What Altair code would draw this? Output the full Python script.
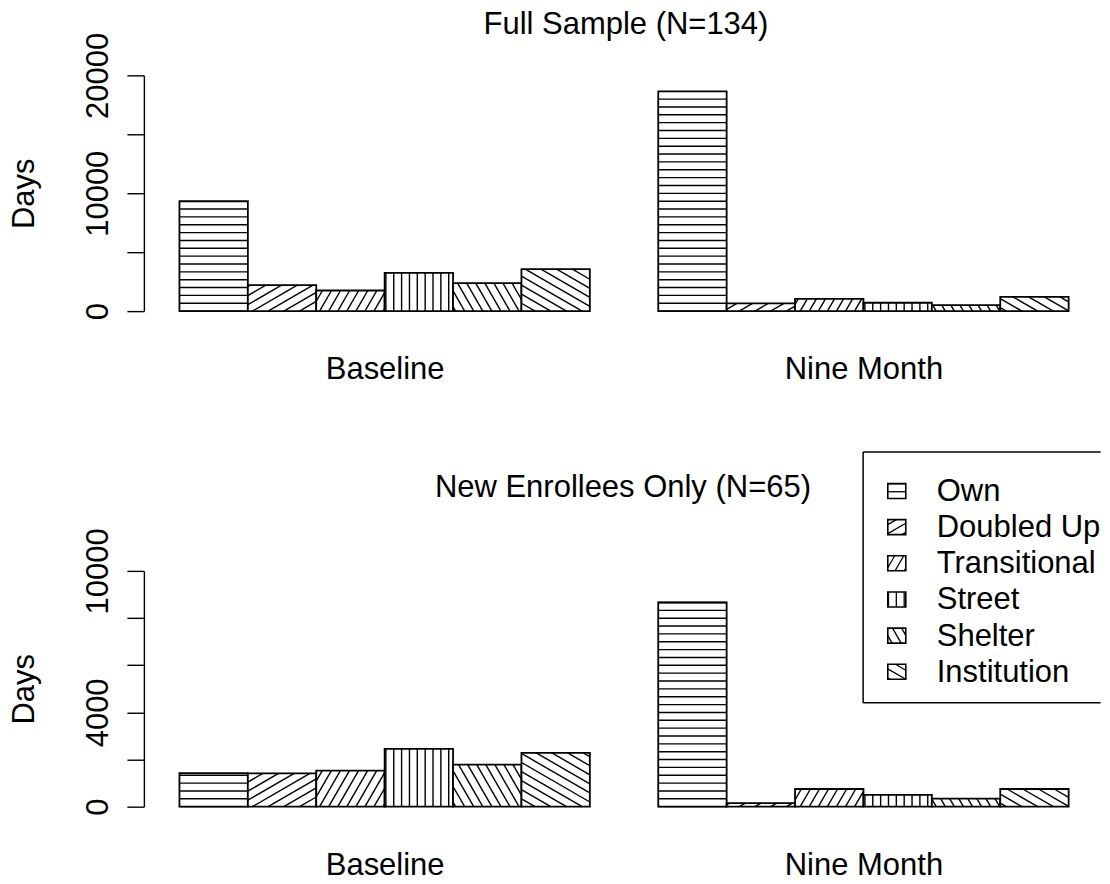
import math
import altair as alt
import pandas as pd

# ---------------- data ----------------
categories = ["Own", "Doubled Up", "Transitional", "Street", "Shelter", "Institution"]
periods = ["Baseline", "Nine Month"]
hatch_angles = [0, 30, 60, 90, 120, 150]

full_baseline = [9320, 2200, 1750, 3250, 2370, 3560]
full_ninemonth = [18640, 650, 1045, 710, 510, 1215]
new_baseline = [1420, 1410, 1530, 2450, 1780, 2280]
new_ninemonth = [8660, 150, 750, 500, 340, 750]

panel_titles = ["Full Sample (N=134)", "New Enrollees Only (N=65)"]
full_ticks = [0, 5000, 10000, 15000, 20000]
full_labels = [0, 10000, 20000]
new_ticks = [0, 2000, 4000, 6000, 8000, 10000]
new_labels = [0, 4000, 10000]
y_title = "Days"

# ---------------- layout ----------------
FONT = "Liberation Sans"
FS = 31
W, H = 953, 236
XMIN, XMAX = 0.48, 14.4
KX = W / (XMAX - XMIN)
HATCH_D = 7.86
PLOT_LEFT_PAGE = 143.4
TOP_ZERO_PAGE = 311.0


def hatch_px(X0, X1, Y0, Y1, angle_deg, d=HATCH_D):
    th = math.radians(angle_deg)
    ux, uy = math.cos(th), math.sin(th)
    nx, ny = -uy, ux
    cs = [nx * X + ny * Y for X in (X0, X1) for Y in (Y0, Y1)]
    cmin, cmax = min(cs), max(cs)
    out = []
    for m in range(math.ceil(cmin / d - 1e-9), math.floor(cmax / d + 1e-9) + 1):
        c = m * d
        px, py = c * nx, c * ny
        tlo, thi = -1e18, 1e18
        ok = True
        for p, u, lo, hi in ((px, ux, X0, X1), (py, uy, Y0, Y1)):
            if abs(u) < 1e-9:
                if p < lo - 1e-9 or p > hi + 1e-9:
                    ok = False
            else:
                t1, t2 = (lo - p) / u, (hi - p) / u
                tlo = max(tlo, min(t1, t2))
                thi = min(thi, max(t1, t2))
        if ok and thi - tlo > 0.5:
            out.append((px + tlo * ux, py + tlo * uy, px + thi * ux, py + thi * uy))
    return out


def y_axis(ticks, labels):
    cond = " || ".join(f"datum.value == {v}" for v in labels)
    return alt.Axis(
        values=ticks, format="d",
        labelExpr=f"({cond}) ? datum.label : ''",
        title=y_title, titleX=-110.4, titleY=H / 2, titleAngle=270,
        titleAlign="center", titleBaseline="alphabetic",
        titleFont=FONT, titleFontSize=FS, titleFontWeight="normal", titleColor="black",
        labelAngle=270, labelAlign="center", labelBaseline="alphabetic",
        labelPadding=19.4, labelFont=FONT, labelFontSize=FS, labelColor="black",
        labelOverlap=False, labelFlush=False,
        tickSize=17, tickWidth=1.4, tickColor="black",
        domainWidth=1.4, domainColor="black", grid=False,
    )


group_centers = [1 + p * 7 + len(categories) / 2 for p in range(len(periods))]
x_label_expr = " : ".join(
    f"datum.value == {c} ? '{n}'" for c, n in zip(group_centers, periods)
) + " : ''"
x_axis = alt.Axis(
    values=group_centers, labelExpr=x_label_expr, title=None,
    ticks=False, tickSize=0, domain=False, grid=False,
    labelPadding=67.5, labelBaseline="alphabetic", labelAlign="center",
    labelFont=FONT, labelFontSize=FS, labelColor="black",
    labelOverlap=False, labelFlush=False,
)


def panel(series, ymax, ticks, labels, title, offset, dx, legend):
    ky = H / ymax
    xs = alt.Scale(domain=[XMIN, XMAX], nice=False, zero=False)
    ys = alt.Scale(domain=[0, ymax], nice=False)
    yax = y_axis(ticks, labels)
    bars, hatch = [], []
    for p, vals in enumerate(series):
        for i, v in enumerate(vals):
            xl = 1 + p * 7 + i
            xr = xl + 1
            bars.append(dict(xa=xl, xb=xr, ya=0, yb=v, category=categories[i], period=periods[p]))
            for (a, b, c, d) in hatch_px(xl * KX, xr * KX, 0, v * ky, hatch_angles[i]):
                hatch.append(dict(xa=a / KX, ya=b / ky, xb=c / KX, yb=d / ky))

    def enc(ch):
        return ch.encode(
            x=alt.X("xa:Q", scale=xs, axis=x_axis),
            x2="xb:Q",
            y=alt.Y("ya:Q", scale=ys, axis=yax),
            y2="yb:Q",
        )

    layers = [
        enc(alt.Chart(pd.DataFrame(bars)).mark_rect(fill="white", stroke="black", strokeWidth=1.8)),
        enc(alt.Chart(pd.DataFrame(hatch)).mark_rule(color="black", strokeWidth=1.4)),
    ]

    if legend:
        def to_x(page_x):
            return XMIN + (page_x - PLOT_LEFT_PAGE) / KX

        def to_y(page_y):
            return (TOP_ZERO_PAGE - page_y) / ky

        L, T, B, R = 863.3, 452.0, 703.0, 1101.0
        box = [
            dict(xa=to_x(L), xb=to_x(R), ya=to_y(T), yb=to_y(T)),
            dict(xa=to_x(L), xb=to_x(R), ya=to_y(B), yb=to_y(B)),
            dict(xa=to_x(L), xb=to_x(L), ya=to_y(T), yb=to_y(B)),
        ]
        syms, shatch, texts = [], [], []
        for i, cat in enumerate(categories):
            yc = 491 + 36.2 * i
            sx0, sx1 = 888.0, 906.0
            sy0, sy1 = yc + 7.5, yc - 7.5
            syms.append(dict(xa=to_x(sx0), xb=to_x(sx1), ya=to_y(sy0), yb=to_y(sy1)))
            X0 = to_x(sx0) * KX
            X1 = to_x(sx1) * KX
            Y0 = to_y(sy0) * ky
            Y1 = to_y(sy1) * ky
            for (a, b, c, d) in hatch_px(X0, X1, Y0, Y1, hatch_angles[i]):
                shatch.append(dict(xa=a / KX, ya=b / ky, xb=c / KX, yb=d / ky))
            texts.append(dict(xa=to_x(937.0), ya=to_y(yc + 1), label=cat))
        layers += [
            enc(alt.Chart(pd.DataFrame(box)).mark_rule(color="black", strokeWidth=1.5)),
            enc(alt.Chart(pd.DataFrame(syms)).mark_rect(fill="white", stroke="black", strokeWidth=1.6)),
            enc(alt.Chart(pd.DataFrame(shatch)).mark_rule(color="black", strokeWidth=1.3)),
            alt.Chart(pd.DataFrame(texts)).mark_text(
                align="left", baseline="middle", font=FONT, fontSize=FS, color="black"
            ).encode(
                x=alt.X("xa:Q", scale=xs, axis=x_axis),
                y=alt.Y("ya:Q", scale=ys, axis=yax),
                text="label:N",
            ),
        ]

    return alt.layer(*layers).properties(
        width=W, height=H,
        title=alt.TitleParams(
            text=title, anchor="middle", frame="group", offset=offset, dx=dx,
            baseline="alphabetic", font=FONT, fontSize=FS, fontWeight="normal", color="black",
        ),
    )


top = panel([full_baseline, full_ninemonth], 20000, full_ticks, full_labels,
            panel_titles[0], -33, 6, True)
bottom = panel([new_baseline, new_ninemonth], 10000, new_ticks, new_labels,
               panel_titles[1], 0, 3, False)

chart = alt.vconcat(top, bottom, spacing=260, bounds="flush").properties(
    padding=0
).configure(font=FONT).configure_view(strokeWidth=0, stroke="transparent")

chart.save("out.html", embed_options={"renderer": "svg", "actions": False})
